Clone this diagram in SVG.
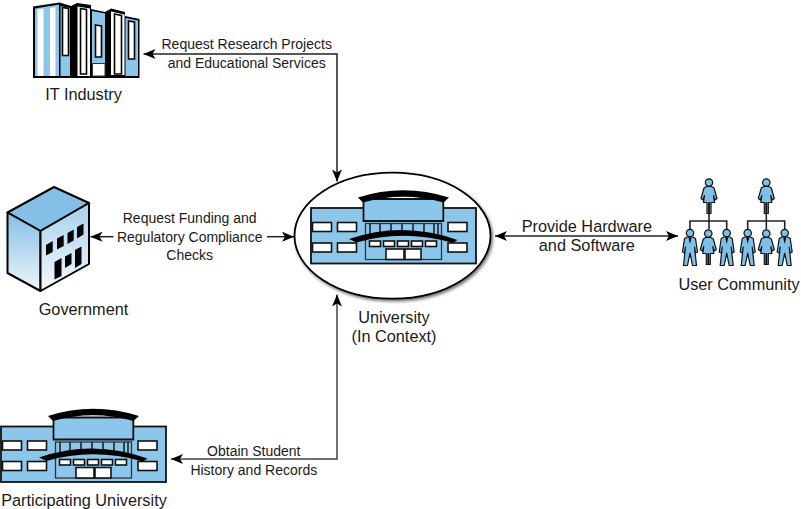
<svg xmlns="http://www.w3.org/2000/svg" width="801" height="509" viewBox="0 0 801 509">
<style>
text{font-family:"Liberation Sans",Arial,sans-serif;fill:#1a1a1a;text-anchor:middle}
.s{font-size:14px}.m{font-size:16.3px}
.c{fill:none;stroke:#222;stroke-width:1.5}
.b{fill:#8cc6ea;stroke:#111;stroke-width:1.8}
.w{fill:#fff;stroke:#111;stroke-width:1.6}
.k{fill:#000}
.p{fill:#7fc0e6;stroke:#111;stroke-width:1.2;stroke-linejoin:round}
.t{fill:none;stroke:#222;stroke-width:1.6}
</style>
<defs>
<marker id="a" viewBox="0 0 12 10" refX="12" refY="5" markerWidth="12" markerHeight="10" markerUnits="userSpaceOnUse" orient="auto-start-reverse"><path d="M0 0 L12 5 L0 10 L3 5Z" fill="#000"/></marker>
<linearGradient id="g1" x1="0" y1="0" x2="0" y2="1"><stop offset="0" stop-color="#84bfe6"/><stop offset="1" stop-color="#eef6fb"/></linearGradient>
<linearGradient id="g2" x1="0" y1="0" x2="0" y2="1"><stop offset="0" stop-color="#a5d0ec"/><stop offset="1" stop-color="#f4f9fc"/></linearGradient>
<filter id="sh" x="-10%" y="-10%" width="120%" height="125%"><feDropShadow dx="1.5" dy="2" stdDeviation="1.6" flood-color="#000" flood-opacity=".55"/></filter>
<g id="uni">
<rect class="b" x="311" y="208" width="165" height="55.5"/>
<path class="b" d="M363.500 199H443.300V221H363.500Z"/>
<path class="k" d="M358 197.500Q403 183 449 197.500L443.500 202.500Q403 191 363 202.500Z"/>
<rect x="365.500" y="223.500" width="76" height="36" fill="#8cc6ea" stroke="#333" stroke-width="1.300"/>
<path class="t" d="M370 223.500V238M380 223.500V234M391 223.500V232M402 223.500V231M413 223.500V231M424 223.500V232M434 223.500V234M438 223.500V238"/>
<path class="k" d="M349 239Q403 220.500 457.500 240L453 243Q403 229 356.500 242.500Z"/>
<rect class="w" x="312.500" y="222.500" width="19" height="9"/><rect class="w" x="337.500" y="222.500" width="19" height="9"/><rect class="w" x="448" y="222.500" width="19" height="9"/>
<rect class="w" x="312.500" y="243" width="19" height="9"/><rect class="w" x="337.500" y="243" width="19" height="9"/><rect class="w" x="448" y="243" width="19" height="9"/>
<rect class="w" x="369.500" y="241" width="11" height="5.500"/><rect class="w" x="383.500" y="241" width="11" height="5.500"/><rect class="w" x="397.500" y="241" width="11" height="5.500"/><rect class="w" x="411.500" y="241" width="11" height="5.500"/><rect class="w" x="425.500" y="241" width="11" height="5.500"/>
<rect class="w" x="386" y="249" width="18" height="10.500"/><rect class="w" x="405" y="249" width="16" height="10.500"/>
</g>
<g id="woman">
<path class="p" d="M-2.500 8L-5 9.500-8 20-6 21.500-4.500 17-5.500 24H-2V35H-.3V24H.3V35H2V24H5.500L4.500 17 6 21.500 8 20 5 9.500 2.500 8Z"/>
<circle class="p" cx="0" cy="4" r="3.700"/>
</g>
<g id="man">
<path class="p" d="M-3 8L-5.500 9.500-7.500 23-5.500 24-4.500 18-6.500 36.500H-2.500L0 24 2.500 36.500H6.500L4.500 18 5.500 24 7.500 23 5.500 9.500 3 8Z"/>
<path class="k" d="M-1.500 8.500L0 15 1.500 8.500Z"/>
<circle class="p" cx="0" cy="4" r="3.700"/>
</g>
</defs>

<g id="connectors">
<path class="c" d="M143.500 54H337V181.500" marker-start="url(#a)" marker-end="url(#a)"/>
<path class="c" d="M113.500 236.700H90.500" marker-end="url(#a)"/>
<path class="c" d="M267 236.700H294" marker-end="url(#a)"/>
<path class="c" d="M495 236H678" marker-start="url(#a)" marker-end="url(#a)"/>
<path class="c" stroke-opacity=".85" d="M171 459H337V294.500" marker-start="url(#a)" marker-end="url(#a)"/>
</g>

<g id="it-industry">
<path class="k" d="M33 78V6.500L59.500 2.500 71 6 77 3 91 5 91 9 105 12 111 8.500 125 12V16L139.500 19V78Z"/>
<path fill="#8cc6ea" d="M35 76V8.500L59 4.500V76ZM60.500 6L70 8V76H60.500ZM92 11L105 13.500V76H92ZM125.500 18L138 20.500V76H125.500Z"/>
<path fill="#fff" d="M77.500 6.500L90 8.500V76H77.500ZM111 11.500L124.500 14.500V75H111Z"/>
<path fill="#fff" stroke="#000" stroke-width="1.600" d="M80.500 8.500L86.500 9.500V74H80.500ZM114.500 14L121.500 15.500V74H114.500ZM62.500 7.500L68.500 8.500V55.500H62.500ZM95.500 25L101.500 26V57H95.500ZM128.500 21L134.500 22V59H128.500Z"/>
<path fill="#fff" d="M37.500 9.500L43.500 8.500V76H37.500ZM50 8L55.500 7V76H50Z"/>
<rect x="92.500" y="63.500" width="12.500" height="12.500" fill="#fff" stroke="#333"/>
<text class="m" x="83.500" y="100">IT Industry</text>
</g>

<g id="government">
<path d="M7.500 212.500L54 187 89 203 40.500 231Z" fill="#84bfe6" stroke="#000" stroke-width="2" stroke-linejoin="round"/>
<path d="M7.500 212.500L40.500 231V291L7.500 273Z" fill="url(#g1)" stroke="#000" stroke-width="2" stroke-linejoin="round"/>
<path d="M40.500 231L89 203V264L40.500 291Z" fill="url(#g2)" stroke="#000" stroke-width="2" stroke-linejoin="round"/>
<path class="k" d="M46 245L52.700 241V252L46 255.500ZM57 238.500L63.700 235V246L57 249.500ZM67.500 233L73.700 229.500V240.500L67.500 244ZM77 227L83.500 223.500V234.500L77 238.500ZM54.500 262L61.500 258V276L54.500 279.500ZM65 256.500L71.500 253V264L65 268ZM75 250L81.500 246.500V264L75 268Z"/>
<text class="m" x="83.500" y="314.800">Government</text>
</g>

<g id="university">
<ellipse cx="392.500" cy="235.700" rx="98" ry="63" fill="#fff" stroke="#000" stroke-width="1.800" filter="url(#sh)"/>
<use href="#uni"/>
<text class="m" x="394" y="323">University</text>
<text class="m" x="394" y="342.300">(In Context)</text>
</g>

<g id="user-community">
<path class="t" d="M709 214V229M690 229V221H726.700V229M766.300 214V229M747.700 229V221H784.700V229"/>
<use href="#woman" x="709" y="178.500"/>
<use href="#woman" x="766.300" y="178.500"/>
<use href="#man" x="690" y="229"/>
<use href="#woman" x="708.300" y="229.500"/>
<use href="#man" x="726.700" y="229"/>
<use href="#man" x="747.700" y="229"/>
<use href="#woman" x="766.300" y="229.500"/>
<use href="#man" x="784.700" y="229"/>
<text class="m" x="739" y="289.800">User Community</text>
</g>

<g id="participating-university">
<use href="#uni" transform="translate(-310 218.500)"/>
<text class="m" x="84" y="505.500">Participating University</text>
</g>

<g id="labels">
<text class="s" x="246.700" y="49">Request Research Projects</text>
<text class="s" x="246.700" y="67.800">and Educational Services</text>
<text class="s" x="189.700" y="222.800">Request Funding and</text>
<text class="s" x="189.700" y="242">Regulatory Compliance</text>
<text class="s" x="189.700" y="260">Checks</text>
<text class="m" x="586.800" y="231.500">Provide Hardware</text>
<text class="m" x="586.800" y="250.800">and Software</text>
<text class="s" x="253.800" y="455.500">Obtain Student</text>
<text class="s" x="253.800" y="474.800">History and Records</text>
</g>
</svg>
